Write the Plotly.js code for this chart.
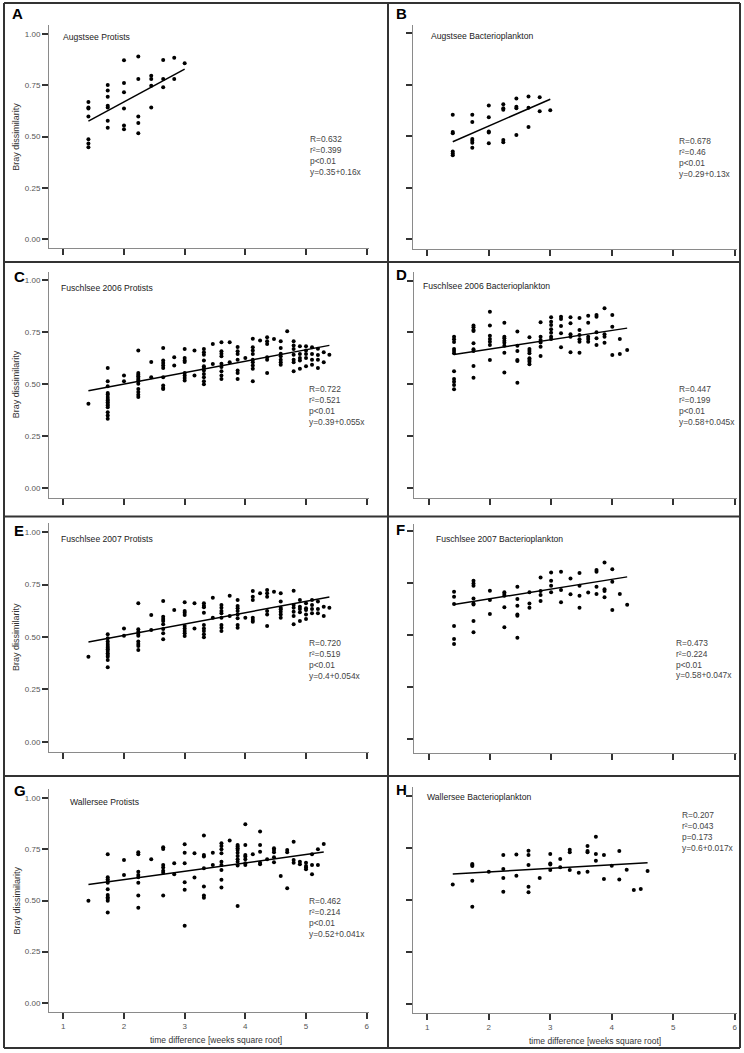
<!DOCTYPE html>
<html><head><meta charset="utf-8">
<script src="https://cdn.plot.ly/plotly-3.0.1.min.js"></script>
<style>html,body{margin:0;padding:0;background:#fff}#chart{width:744px;height:1053px}</style>
</head><body><div id="chart"></div>
<script>
// ---------------- data ----------------
const panelLetters = ['A','B','C','D','E','F','G','H'];
const panelNames = ['Augstsee Protists','Augstsee Bacterioplankton','Fuschlsee 2006 Protists','Fuschlsee 2006 Bacterioplankton','Fuschlsee 2007 Protists','Fuschlsee 2007 Bacterioplankton','Wallersee Protists','Wallersee Bacterioplankton'];
const statR  = ['0.632','0.678','0.722','0.447','0.720','0.473','0.462','0.207'];
const statR2 = ['0.399','0.46','0.521','0.199','0.519','0.224','0.214','0.043'];
const statP  = ['p<0.01','p<0.01','p<0.01','p<0.01','p<0.01','p<0.01','p<0.01','p=0.173'];
const intercepts = [0.35,0.29,0.39,0.58,0.4,0.58,0.52,0.6];
const slopes     = [0.16,0.13,0.055,0.045,0.054,0.047,0.041,0.017];
const xTicks = [1,2,3,4,5,6];
const yTicks = [0,0.25,0.5,0.75,1];
const yTickText = ['0.00','0.25','0.50','0.75','1.00'];

// A: Augstsee Protists
const colX_A = [1.414,1.732,2,2.236,2.449,2.646,2.828,3];
const colY_A = [[0.669,0.643,0.637,0.598,0.487,0.467,0.448],[0.752,0.725,0.695,0.651,0.643,0.578,0.544],[0.873,0.762,0.717,0.638,0.554,0.536],[0.891,0.782,0.598,0.567,0.516],[0.798,0.782,0.749,0.642],[0.875,0.782,0.741],[0.886,0.782],[0.858]];
// B: Augstsee Bacterioplankton
const colX_B = [1.414,1.732,2,2.236,2.449,2.646,2.828,3];
const colY_B = [[0.605,0.521,0.515,0.426,0.417,0.408],[0.605,0.570,0.487,0.479,0.469,0.445],[0.650,0.592,0.523,0.518,0.466],[0.655,0.636,0.629,0.482,0.471],[0.684,0.644,0.636,0.506],[0.693,0.638,0.545],[0.689,0.621],[0.626]];
// C: Fuschlsee 2006 Protists
const colX_C = [1.414,1.732,2,2.236,2.449,2.646,2.828,3,3.162,3.317,3.464,3.606,3.742,3.873,4,4.123,4.243,4.359,4.472,4.583,4.69,4.796,4.899,5,5.099,5.196,5.292,5.385];
const colY_C = [[0.406],[0.577,0.514,0.49,0.457,0.45,0.438,0.429,0.421,0.413,0.405,0.397,0.389,0.365,0.349,0.334],[0.541,0.514],[0.662,0.553,0.545,0.538,0.529,0.521,0.514,0.502,0.477,0.462,0.449,0.438],[0.606,0.533],[0.674,0.614,0.601,0.589,0.578,0.533,0.493,0.481,0.477],[0.629,0.589],[0.669,0.626,0.614,0.606,0.553,0.541,0.529,0.517],[0.662,0.542],[0.669,0.653,0.641,0.614,0.586,0.578,0.565,0.549,0.533,0.514,0.5],[0.693,0.597],[0.701,0.658,0.646,0.634,0.598,0.582,0.562,0.541,0.525],[0.701,0.605],[0.678,0.658,0.645,0.617,0.565,0.553,0.525],[0.626],[0.718,0.677,0.661,0.645,0.617,0.605,0.59,0.574,0.514],[0.709],[0.725,0.706,0.693,0.629,0.617,0.553],[0.717],[0.706,0.674,0.646,0.634,0.617,0.605,0.593],[0.754],[0.706,0.685,0.669,0.641,0.617,0.605,0.562],[0.682,0.645,0.626,0.613,0.574],[0.682,0.661,0.645,0.626,0.586],[0.677,0.645,0.617,0.593],[0.670,0.64,0.617,0.578],[0.653,0.605],[0.641]];
// D: Fuschlsee 2006 Bacterioplankton
const colX_D = [1.414,1.732,2,2.236,2.449,2.646,2.828,3,3.162,3.317,3.464,3.606,3.742,3.873,4,4.123,4.243];
const colY_D = [[0.729,0.717,0.704,0.67,0.66,0.649,0.563,0.525,0.512,0.496,0.476],[0.783,0.775,0.762,0.757,0.698,0.669,0.66,0.588,0.531],[0.85,0.783,0.734,0.718,0.705,0.689,0.617],[0.797,0.729,0.722,0.71,0.7,0.686,0.652,0.557],[0.754,0.686,0.66,0.617,0.612,0.507],[0.727,0.67,0.66,0.649,0.625,0.617,0.609,0.596],[0.799,0.729,0.713,0.702,0.681,0.636],[0.823,0.802,0.786,0.765,0.749,0.729,0.718],[0.826,0.815,0.781,0.746,0.678],[0.823,0.794,0.741,0.729,0.654],[0.82,0.762,0.738,0.717,0.705,0.652],[0.831,0.797,0.729,0.718,0.705],[0.834,0.826,0.751,0.722,0.689],[0.867,0.741,0.729,0.7],[0.834,0.778,0.641],[0.718,0.646],[0.665]];
// E: Fuschlsee 2007 Protists
const colX_E = [1.414,1.732,2,2.236,2.449,2.646,2.828,3,3.162,3.317,3.464,3.606,3.742,3.873,4,4.123,4.243,4.359,4.472,4.583,4.796,4.899,5,5.099,5.196,5.292,5.385];
const colY_E = [[0.406],[0.513,0.494,0.478,0.467,0.457,0.449,0.441,0.433,0.422,0.414,0.406,0.39,0.355],[0.541,0.506],[0.661,0.537,0.525,0.514,0.506,0.478,0.467,0.457,0.438],[0.605,0.533],[0.672,0.597,0.586,0.576,0.561,0.538,0.518,0.489],[0.629],[0.666,0.624,0.616,0.605,0.553,0.541,0.529,0.518,0.505],[0.661,0.541],[0.661,0.649,0.642,0.616,0.557,0.541,0.529,0.513,0.499],[0.688,0.592],[0.653,0.64,0.624,0.613,0.592,0.557,0.544,0.529],[0.697,0.6],[0.677,0.648,0.637,0.624,0.608,0.589,0.557,0.544],[0.592],[0.72,0.692,0.677,0.592,0.581,0.573],[0.709],[0.724,0.709,0.692,0.624,0.608,0.553],[0.716],[0.709,0.669,0.64,0.632,0.621,0.608,0.592],[0.721,0.653,0.64,0.621,0.6,0.561],[0.677,0.645,0.634,0.618,0.576],[0.661,0.637,0.629,0.608,0.586],[0.677,0.653,0.634,0.613],[0.669,0.634,0.613],[0.645,0.6],[0.64]];
// F: Fuschlsee 2007 Bacterioplankton
const colX_F = [1.414,1.732,2,2.236,2.449,2.646,2.828,3,3.162,3.317,3.464,3.606,3.742,3.873,4,4.123,4.243];
const colY_F = [[0.708,0.684,0.649,0.543,0.481,0.457],[0.761,0.748,0.737,0.676,0.652,0.647,0.567,0.513],[0.713,0.668,0.601],[0.705,0.697,0.689,0.633,0.537],[0.732,0.673,0.641,0.599,0.593,0.487],[0.705,0.652,0.631],[0.777,0.712,0.692,0.663],[0.801,0.761,0.737,0.705],[0.804,0.716,0.657],[0.772,0.696],[0.798,0.737,0.689,0.631],[0.704],[0.812,0.804,0.732,0.697],[0.848,0.72,0.712,0.681],[0.816,0.756,0.62],[0.697],[0.646]];
// G: Wallersee Protists
const colX_G = [1.414,1.732,2,2.236,2.449,2.646,2.828,3,3.162,3.317,3.464,3.606,3.742,3.873,4,4.123,4.243,4.359,4.472,4.583,4.69,4.796,4.899,5,5.099,5.196,5.292];
const colY_G = [[0.499],[0.726,0.614,0.604,0.596,0.587,0.555,0.527,0.516,0.508,0.499,0.441],[0.698,0.625],[0.736,0.726,0.641,0.625,0.614,0.587,0.524,0.465],[0.702],[0.761,0.752,0.674,0.661,0.646,0.636,0.524],[0.682,0.628],[0.775,0.734,0.682,0.589,0.552,0.377],[0.731,0.612],[0.818,0.723,0.715,0.658,0.568,0.524,0.514],[0.734,0.674],[0.78,0.767,0.751,0.731,0.69,0.674,0.649,0.601,0.563],[0.793],[0.772,0.764,0.756,0.747,0.734,0.718,0.702,0.69,0.671,0.473],[0.873,0.772,0.723,0.715,0.702,0.682,0.674],[0.726],[0.837,0.772,0.739,0.685,0.677],[0.702],[0.756,0.747,0.736,0.712,0.687],[0.62],[0.747,0.736,0.56],[0.788,0.698,0.685],[0.69,0.677],[0.685,0.669,0.661,0.653],[0.726,0.674,0.628],[0.751,0.674],[0.777]];
// H: Wallersee Bacterioplankton
const colX_H = [1.414,1.732,2,2.236,2.449,2.646,2.828,3,3.162,3.317,3.464,3.606,3.742,3.873,4,4.123,4.243,4.359,4.472,4.583];
const colY_H = [[0.574],[0.672,0.667,0.662,0.592,0.467],[0.635],[0.715,0.648,0.605,0.539],[0.718,0.616],[0.736,0.715,0.667,0.563,0.536],[0.605],[0.72,0.675,0.67,0.643],[0.696,0.656],[0.741,0.728,0.643],[0.63],[0.758,0.734,0.728,0.635],[0.803,0.72,0.688],[0.715,0.6],[0.664],[0.734,0.598],[0.645],[0.547],[0.552],[0.638]];

const colXs = [colX_A,colX_B,colX_C,colX_D,colX_E,colX_F,colX_G,colX_H];
const colYs = [colY_A,colY_B,colY_C,colY_D,colY_E,colY_F,colY_G,colY_H];

// ---------------- layout geometry (pixels) ----------------
const W = 744, H = 1053;
const XR = [0.765, 6.03];
// pixel positions of x=1, x=6 ticks, y=1, y=0 ticks, y-axis top and x-axis line per panel
const geo = [
  {x1:63.3, x6:366.7, y1:34.3,  y0:239.0,  top:25.0,  bot:248.2},
  {x1:427.3,x6:734.7, y1:33.3,  y0:239.3,  top:24.5,  bot:248.5},
  {x1:63.3, x6:366.7, y1:280.0, y0:488.3,  top:271.5, bot:497.7},
  {x1:428.7,x6:734.7, y1:280.7, y0:487.7,  top:271.7, bot:497.5},
  {x1:63.3, x6:366.7, y1:532.3, y0:741.7,  top:523.0, bot:751.5},
  {x1:428.7,x6:734.7, y1:531.0, y0:739.0,  top:524.0, bot:752.5},
  {x1:63.3, x6:366.7, y1:798.3, y0:1002.7, top:789.0, bot:1012.0},
  {x1:427.3,x6:734.7, y1:795.7, y0:1004.0, top:786.7, bot:1013.0}
];
const letterPos = [[10,14],[393.7,13],[11.7,276],[393.7,275],[11.7,530],[393.7,529],[11.7,790],[393.7,789]];
const namePos = [[61,37],[428.7,36],[58.7,288.3],[421.3,286],[58.7,539],[433.7,539],[68.3,802.3],[424.7,796.7]];
const statPos = [[308.3,139],[677,141],[306.7,389.3],[677,389.3],[306.7,643.3],[673.7,642.7],[306.7,901],[680.3,815]];

const FONT = 'Liberation Sans, Arial, sans-serif';
const px = v => v / W;
const py = v => 1 - v / H;

const data = [];
const layout = {
  width: W, height: H, margin: {l:0,r:0,t:0,b:0},
  paper_bgcolor: '#fff', plot_bgcolor: '#fff', showlegend: false,
  font: {family: FONT, color: '#333'},
  annotations: [], shapes: []
};

for (let i = 0; i < 8; i++) {
  const n = i === 0 ? '' : String(i + 1);
  const g = geo[i];
  const ppx = (g.x6 - g.x1) / 5;
  const ppy = g.y0 - g.y1;
  const left = g.x1 + (XR[0] - 1) * ppx, right = g.x1 + (XR[1] - 1) * ppx;
  const yr = [(g.y0 - g.bot) / ppy, (g.y0 - g.top) / ppy];
  const leftCol = i % 2 === 0, bottomRow = i >= 6;

  layout['xaxis' + n] = {
    domain: [px(left), px(right)], range: XR, anchor: 'y' + n,
    tickvals: xTicks, ticktext: xTicks.map(String), showticklabels: bottomRow,
    ticks: 'outside', ticklen: 6, tickwidth: 2, tickcolor: '#333',
    showline: true, linecolor: '#8a8a8a', linewidth: 1,
    showgrid: false, zeroline: false, fixedrange: true,
    tickfont: {size: 8, color: '#555', family: FONT}
  };
  layout['yaxis' + n] = {
    domain: [py(g.bot), py(g.top)], range: yr, anchor: 'x' + n,
    tickvals: yTicks, ticktext: yTickText, showticklabels: leftCol,
    ticks: 'outside', ticklen: 6, tickwidth: 2, tickcolor: '#333',
    showline: true, linecolor: '#8a8a8a', linewidth: 1,
    showgrid: false, zeroline: false, fixedrange: true,
    tickfont: {size: 8, color: '#555', family: FONT}
  };

  const xs = [], ys = [];
  colXs[i].forEach((xv, k) => colYs[i][k].forEach(yv => { xs.push(xv); ys.push(yv); }));
  data.push({type: 'scatter', mode: 'markers', x: xs, y: ys, xaxis: 'x' + n, yaxis: 'y' + n,
    marker: {color: '#000', size: 4}, hoverinfo: 'skip'});
  const xmin = Math.min(...xs), xmax = Math.max(...xs);
  data.push({type: 'scatter', mode: 'lines', x: [xmin, xmax],
    y: [intercepts[i] + slopes[i] * xmin, intercepts[i] + slopes[i] * xmax],
    xaxis: 'x' + n, yaxis: 'y' + n, line: {color: '#000', width: 1.5}, hoverinfo: 'skip'});

  layout.annotations.push({xref:'paper', yref:'paper', x: px(letterPos[i][0]), y: py(letterPos[i][1]),
    xanchor:'left', yanchor:'middle', showarrow:false, text:'<b>' + panelLetters[i] + '</b>',
    font:{size:15, color:'#000', family: FONT}});
  layout.annotations.push({xref:'paper', yref:'paper', x: px(namePos[i][0]), y: py(namePos[i][1]),
    xanchor:'left', yanchor:'middle', showarrow:false, text: panelNames[i],
    font:{size:8.6, color:'#222', family: FONT}});
  const lines = ['R=' + statR[i], 'r\u00B2=' + statR2[i], statP[i], 'y=' + intercepts[i] + '+' + slopes[i] + 'x'];
  lines.forEach((t, k) => layout.annotations.push({xref:'paper', yref:'paper',
    x: px(statPos[i][0]), y: py(statPos[i][1] + k * 10.9), xanchor:'left', yanchor:'middle',
    showarrow:false, text: t, font:{size:8.4, color:'#444', family: FONT}}));
  if (leftCol) {
    layout.annotations.push({xref:'paper', yref:'paper', x: px(16), y: py((g.y1 + g.y0) / 2),
      xanchor:'center', yanchor:'middle', showarrow:false, textangle:-90, text:'Bray dissimilarity',
      font:{size:9, color:'#333', family: FONT}});
  }
}
[[215.8,1040],[594.5,1040.7]].forEach(p => layout.annotations.push({xref:'paper', yref:'paper',
  x: px(p[0]), y: py(p[1]), xanchor:'center', yanchor:'middle', showarrow:false,
  text:'time difference [weeks square root]', font:{size:8.5, color:'#333', family: FONT}}));

const frame = {color:'#333', width:2};
const L = 4, R = 740, T = 3, B = 1048;
const addLine = (x0, y0, x1, y1) => layout.shapes.push({type:'line', xref:'paper', yref:'paper',
  x0: px(x0), y0: py(y0), x1: px(x1), y1: py(y1), line: frame});
addLine(L, T, R, T); addLine(L, B, R, B); addLine(L, T, L, B); addLine(R, T, R, B);
addLine(388, T, 388, B);
[262, 516.5, 776].forEach(y => addLine(L, y, R, y));

Plotly.newPlot('chart', data, layout, {staticPlot: true, displayModeBar: false});
</script></body></html>
